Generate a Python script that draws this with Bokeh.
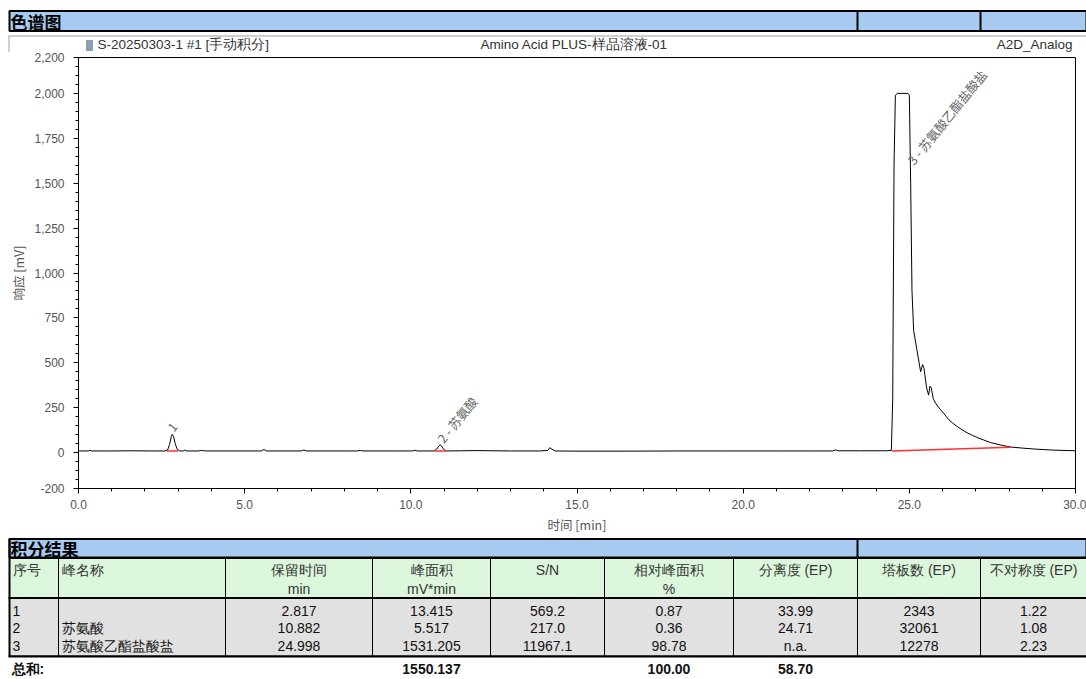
from bokeh.plotting import figure
from bokeh.models import (Range1d, FixedTicker, NumeralTickFormatter, PrintfTickFormatter,
                          ColumnDataSource)
from bokeh.embed import file_html
from bokeh.resources import INLINE
from bokeh.core.properties import value

# ---------------- data ----------------
time_min = [0.00, 0.30, 0.35, 0.40, 1.00, 1.60, 2.20, 2.60, 2.68, 2.74, 2.79, 2.82, 2.86, 2.91, 2.97,
            3.05, 3.15, 3.20, 3.25, 3.60, 3.70, 3.80, 4.50, 5.50, 5.58, 5.66, 6.70, 6.78, 6.86, 8.00,
            8.40, 8.48, 8.56, 9.50, 10.05, 10.12, 10.20, 10.70, 10.78, 10.84, 10.88, 10.93, 10.99,
            11.06, 11.50, 12.00, 12.50, 13.00, 13.90, 14.12, 14.18, 14.24, 14.34, 15.00, 16.50, 18.00,
            19.50, 21.00, 22.00, 22.70, 22.78, 22.86, 23.50, 24.30, 24.46, 24.50, 24.54, 24.58, 24.64,
            24.96, 25.00, 25.04, 25.08, 25.13, 25.22, 25.34, 25.40, 25.44, 25.52, 25.58, 25.62, 25.66,
            25.72, 25.79, 25.87, 25.94, 26.05, 26.18, 26.30, 26.44, 26.58, 26.74, 26.90, 27.04, 27.24,
            27.44, 27.75, 28.05, 28.40, 28.74, 29.30, 30.00]
signal_mv = [9, 9, 13, 9, 9, 10, 9, 9, 14, 45, 88, 102, 90, 50, 18,
             9, 9, 14, 9, 9, 12, 9, 9, 9, 17, 9, 9, 14, 9, 9,
             9, 12, 9, 9, 9, 13, 9, 9, 20, 36, 43, 35, 18,
             9, 10, 11, 10, 9, 9, 12, 27, 20, 9, 8, 8, 9,
             9, 9, 9, 9, 15, 10, 10, 10, 12, 300, 1600, 1990, 2000,
             2000, 1990, 1500, 900, 680, 580, 450, 490, 470, 360, 320, 370, 360,
             300, 275, 255, 238, 215, 185, 165, 145, 128, 110, 96, 84, 70,
             56, 42, 31, 25, 20, 14, 10]

# integration baselines
base_t0 = [2.66, 10.72, 24.48]
base_t1 = [3.00, 11.06, 28.05]
base_v0 = [9, 9, 9]
base_v1 = [9, 9, 30]

# peak labels
peak_text = ["1", "2 - 苏氨酸", "3 - 苏氨酸乙酯盐酸盐"]
peak_t = [2.76, 10.87, 25.02]
peak_v = [128, 66, 1615]

y_ticks = [-200, 0, 250, 500, 750, 1000, 1250, 1500, 1750, 2000, 2200]
x_ticks = [0, 5, 10, 15, 20, 25, 30]

title_left = "S-20250303-1 #1 [手动积分]"
title_mid = "Amino Acid PLUS-样品溶液-01"
title_right = "A2D_Analog"

# table
hdr1 = ["序号", "峰名称", "保留时间", "峰面积", "S/N", "相对峰面积", "分离度 (EP)", "塔板数 (EP)", "不对称度 (EP)"]
hdr2 = ["", "", "min", "mV*min", "", "%", "", "", ""]
ids = ["1", "2", "3"]
names = ["", "苏氨酸", "苏氨酸乙酯盐酸盐"]
ret_time = ["2.817", "10.882", "24.998"]
area = ["13.415", "5.517", "1531.205"]
sn = ["569.2", "217.0", "11967.1"]
rel_area = ["0.87", "0.36", "98.78"]
resolution = ["33.99", "24.71", "n.a."]
plates = ["2343", "32061", "12278"]
asym = ["1.22", "1.08", "2.23"]
total_label = "总和:"
total_area = "1550.137"
total_rel = "100.00"
total_res = "58.70"

# ---------------- layout / style ----------------
W = 1086
X0 = 8  # page margin drawn by hand
FONT = value("Liberation Sans")
CJK = value("Noto Sans CJK SC")
BLUE = "#a6caf0"


def blank(h):
    f = figure(width=W, height=h, x_range=Range1d(0, W), y_range=Range1d(h, 0),
               toolbar_location=None, output_backend="svg", min_border=0,
               x_axis_location=None, y_axis_location=None)
    f.grid.visible = False
    f.outline_line_color = None
    f.background_fill_color = "white"
    f.border_fill_color = "white"
    return f


# header bar + chart title row
HA = 52
ha = blank(HA)
ha.quad(left=X0 + 1, right=W, top=10.5, bottom=30.5, fill_color=BLUE, line_color="black", line_width=2)
ha.segment(x0=[857, 980], y0=[10.5, 10.5], x1=[857, 980], y1=[30.5, 30.5], line_color="black", line_width=2)
ha.text(x=[X0 + 2], y=[21], text=["色谱图"], text_font=CJK, text_font_size="17px",
        text_font_style="bold", text_baseline="middle", text_color="black")
ha.segment(x0=[X0], y0=[35.5], x1=[W], y1=[35.5], line_color="#a0a0a0", line_width=1)
ha.segment(x0=[X0 + 0.5], y0=[35.5], x1=[X0 + 0.5], y1=[HA], line_color="#a0a0a0", line_width=1)
ha.quad(left=[86], right=[92], top=[40], bottom=[50], fill_color="#8aa0b8", line_color="#556677", line_width=0.5)
tsrc = ColumnDataSource(dict(x=[97, 480, 1072], t=[title_left, title_mid, title_right],
                             a=["left", "left", "right"]))
ha.text(x="x", y=44, text="t", text_align="a", source=tsrc, text_font=FONT, text_font_size="13.5px",
        text_color="#333333", text_baseline="middle")

# chromatogram
p = figure(width=W, height=484, x_range=Range1d(0, 30), y_range=Range1d(-200, 2200),
           toolbar_location=None, output_backend="svg",
           min_border_left=78, min_border_right=11, min_border_top=5, min_border_bottom=46)
p.grid.visible = False
p.outline_line_color = "black"
p.outline_line_width = 1
p.line(time_min, signal_mv, line_color="black", line_width=1)
p.segment(x0=base_t0, y0=base_v0, x1=base_t1, y1=base_v1, line_color="#ff3030", line_width=1.6)
psrc = ColumnDataSource(dict(x=peak_t, y=peak_v, t=peak_text))
p.text(x="x", y="y", text="t", source=psrc, angle=0.89, text_font=CJK, text_font_size="12.5px",
       text_color="#666666", text_align="left", text_baseline="middle")

p.yaxis.ticker = FixedTicker(ticks=y_ticks, minor_ticks=list(range(-200, 2201, 50)))
p.yaxis.formatter = NumeralTickFormatter(format="0,0")
p.xaxis.ticker = FixedTicker(ticks=x_ticks, minor_ticks=list(range(0, 31)))
p.xaxis.formatter = PrintfTickFormatter(format="%.1f")
for ax in (p.xaxis[0], p.yaxis[0]):
    ax.major_tick_out = 5
    ax.major_tick_in = 0
    ax.minor_tick_out = 3
    ax.minor_tick_in = 0
    ax.axis_line_color = "black"
    ax.major_tick_line_color = "black"
    ax.minor_tick_line_color = "black"
    ax.major_label_text_font = "Liberation Sans"
    ax.major_label_text_font_size = "12px"
    ax.major_label_text_color = "#555555"
    ax.axis_label_text_font = "Noto Sans CJK SC"
    ax.axis_label_text_font_size = "12.5px"
    ax.axis_label_text_font_style = "normal"
    ax.axis_label_text_color = "#555555"
p.xaxis.axis_label = "时间 [min]"
p.yaxis.axis_label = "响应 [mV]"
p.xaxis.major_label_standoff = 6
p.xaxis.axis_label_standoff = 3
p.yaxis.major_label_standoff = 9
p.yaxis.axis_label_standoff = 3

# results table
H = 142
tc = blank(H)
edges = [X0 + 1, 58, 225, 372, 490, 604, 733, 857, 980, W]
tc.quad(left=X0 + 1, right=W, top=2.5, bottom=21, fill_color=BLUE, line_color="black", line_width=2)
tc.segment(x0=[857], y0=[2.5], x1=[857], y1=[21], line_color="black", line_width=2)
tc.text(x=[X0 + 2], y=[12], text=["积分结果"], text_font=CJK, text_font_size="17px",
        text_font_style="bold", text_baseline="middle", text_color="black")
tc.quad(left=X0 + 1, right=W, top=22, bottom=61, fill_color="#dcf7dc", line_color="black", line_width=1)
tc.quad(left=X0 + 1, right=W, top=62, bottom=119.5, fill_color="#e1e1e1", line_color="black", line_width=1)
tc.segment(x0=edges[1:-1], y0=[22] * 8, x1=edges[1:-1], y1=[119.5] * 8, line_color="black", line_width=1)
tc.segment(x0=[X0, X0], y0=[61.5, 120], x1=[W, W], y1=[61.5, 120], line_color="black", line_width=2)
tc.segment(x0=[X0 + 1], y0=[2], x1=[X0 + 1], y1=[120], line_color="black", line_width=2)

centers = [(edges[i] + edges[i + 1]) / 2 for i in range(9)]
hx, hy, ht, ha_ = [], [], [], []
for i in range(9):
    left = i < 2
    hx.append(edges[i] + 3 if left else centers[i])
    hy.append(33)
    ht.append(hdr1[i])
    ha_.append("left" if left else "center")
    if hdr2[i]:
        hx.append(centers[i]); hy.append(52); ht.append(hdr2[i]); ha_.append("center")
tc.text(x="x", y="y", text="t", text_align="a", source=ColumnDataSource(dict(x=hx, y=hy, t=ht, a=ha_)),
        text_font=FONT, text_font_size="14px", text_color="#333333", text_baseline="middle")

cols = [ids, names, ret_time, area, sn, rel_area, resolution, plates, asym]
rows_y = [74, 91, 109]
dx, dy, dt, da = [], [], [], []
for i, colv in enumerate(cols):
    for r, v in enumerate(colv):
        if not v:
            continue
        left = i < 2
        dx.append(edges[i] + 3 if left else centers[i])
        dy.append(rows_y[r])
        dt.append(v)
        da.append("left" if left else "center")
tc.text(x="x", y="y", text="t", text_align="a", source=ColumnDataSource(dict(x=dx, y=dy, t=dt, a=da)),
        text_font=FONT, text_font_size="14px", text_color="#111111", text_baseline="middle")

tx = [X0 + 3, centers[3], centers[5], centers[6]]
tt = [total_label, total_area, total_rel, total_res]
ta = ["left", "center", "center", "center"]
tc.text(x="x", y="y", text="t", text_align="a", source=ColumnDataSource(dict(x=tx, y=[132] * 4, t=tt, a=ta)),
        text_font=FONT, text_font_size="14px", text_font_style="bold", text_color="#111111",
        text_baseline="middle")

open("out.html", "w").write(file_html([ha, p, tc], INLINE))
